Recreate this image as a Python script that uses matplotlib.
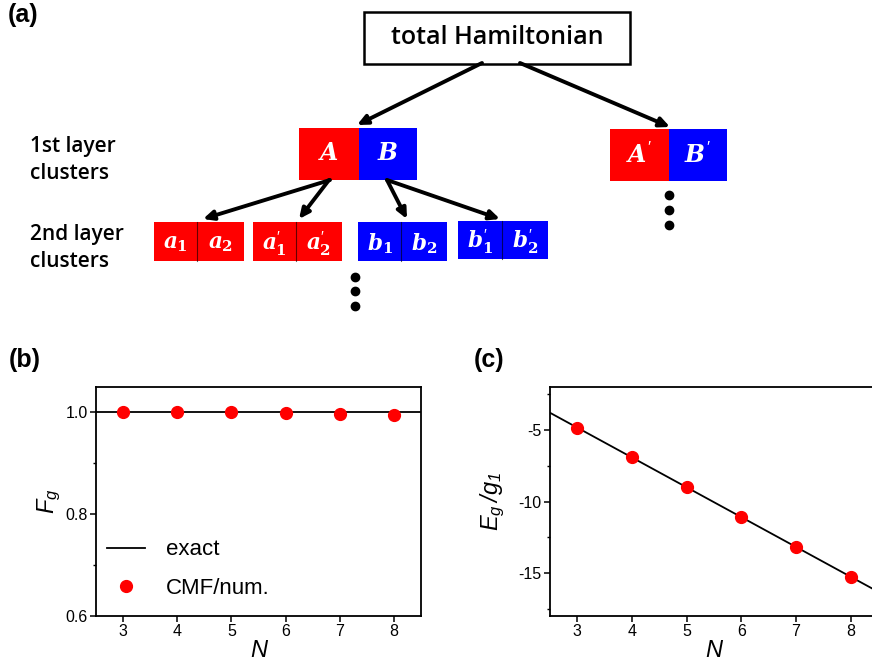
import matplotlib
matplotlib.use('Agg')
import matplotlib.pyplot as plt
import numpy as np

plt.rcParams['font.family'] = ['Liberation Sans', 'DejaVu Sans']
plt.rcParams['mathtext.fontset'] = 'custom'
plt.rcParams['mathtext.it'] = 'DejaVu Serif:italic:bold'
plt.rcParams['mathtext.bf'] = 'DejaVu Serif:bold'
plt.rcParams['mathtext.rm'] = 'Liberation Sans'
plt.rcParams['mathtext.sf'] = 'Liberation Sans:italic'
plt.rcParams['axes.linewidth'] = 1.3
plt.rcParams['axes.unicode_minus'] = False

## data
N = [3, 4, 5, 6, 7, 8]
Fg_num = [1.0, 1.0, 1.0, 0.999, 0.9975, 0.9955]
Fg_exact = 1.0
Eg_num = [-4.83, -6.86, -8.96, -11.06, -13.15, -15.25]
N_line = [2.5, 8.5]
Eg_exact = [-3.8, -16.3]

RED = '#ff0000'
BLUE = '#0000ff'

fig = plt.figure(figsize=(8.72, 6.70), dpi=100)

## (a) cluster diagram, drawn in pixel coords
ax0 = fig.add_axes([0, 0, 1, 1])
ax0.set_xlim(0, 872)
ax0.set_ylim(670, 0)
ax0.axis('off')

ax0.text(497, 38, 'total Hamiltonian', fontsize=18, family='Open Sans',
         fontweight='semibold', ha='center', va='center')
ax0.add_patch(plt.Rectangle((364, 12), 266, 52, fill=False, ec='k', lw=1.8))

# first layer: (x0, xmid, x1, y0, y1, left label, right label)
layer1 = [(299, 359, 417, 128, 180, r'$A$', r'$B$'),
          (610, 669, 727, 129, 181, r'$A^{\prime}$', r'$B^{\prime}$')]
layer2 = [(154, 197, 244, 222, 261, RED, r'$a_{\mathbf{1}}$', r'$a_{\mathbf{2}}$'),
          (253, 296, 342, 222, 261, RED, r'$a_{\mathbf{1}}^{\prime}$', r'$a_{\mathbf{2}}^{\prime}$'),
          (358, 401, 447, 222, 261, BLUE, r'$b_{\mathbf{1}}$', r'$b_{\mathbf{2}}$'),
          (458, 502, 548, 221, 259, BLUE, r'$b_{\mathbf{1}}^{\prime}$', r'$b_{\mathbf{2}}^{\prime}$')]

for x0, xm, x1, y0, y1, l1, l2 in layer1:
    ax0.add_patch(plt.Rectangle((x0, y0), xm - x0, y1 - y0, fc=RED, ec='none'))
    ax0.add_patch(plt.Rectangle((xm, y0), x1 - xm, y1 - y0, fc=BLUE, ec='none'))
    ax0.text((x0 + xm) / 2, (y0 + y1) / 2, l1, color='w', fontsize=17, ha='center', va='center')
    ax0.text((xm + x1) / 2, (y0 + y1) / 2, l2, color='w', fontsize=17, ha='center', va='center')

for x0, xm, x1, y0, y1, c, l1, l2 in layer2:
    ax0.add_patch(plt.Rectangle((x0, y0), x1 - x0, y1 - y0, fc=c, ec='none'))
    ax0.plot([xm, xm], [y0, y1], c='k', lw=0.8, alpha=0.6)
    ax0.text((x0 + xm) / 2, (y0 + y1) / 2 + 2, l1, color='w', fontsize=15.5, ha='center', va='center')
    ax0.text((xm + x1) / 2, (y0 + y1) / 2 + 2, l2, color='w', fontsize=15.5, ha='center', va='center')

arrows = [((482, 63), (357, 125)), ((520, 63), (670, 127)),
          ((330, 180), (203, 219)), ((329, 180), (299, 219)),
          ((387, 180), (407, 219)), ((387, 180), (500, 219))]
for start, end in arrows:
    ax0.annotate('', xy=end, xytext=start,
                 arrowprops=dict(arrowstyle='-|>,head_length=0.6,head_width=0.28',
                                 lw=2.8, color='k', shrinkA=0, shrinkB=0))

ax0.plot([669, 669, 669], [195, 210, 225], 'o', c='k', ms=6)
ax0.plot([355, 355, 355], [277, 291, 306], 'o', c='k', ms=6)

for txt, yb in [('1st layer', 152), ('clusters', 179), ('2nd layer', 240), ('clusters', 267)]:
    ax0.text(30, yb, txt, fontsize=15, family='Open Sans', fontweight='semibold',
             ha='left', va='baseline')

fig.text(8 / 872, 1 - 22 / 670, '(a)', fontsize=18, fontweight='bold')
fig.text(9 / 872, 1 - 367 / 670, '(b)', fontsize=18, fontweight='bold')
fig.text(474 / 872, 1 - 367 / 670, '(c)', fontsize=18, fontweight='bold')

## (b)
ax1 = fig.add_axes([96 / 872, 54 / 670, 325 / 872, 229 / 670])
ax1.axhline(Fg_exact, c='k', lw=1.3, label='exact')
ax1.plot(N, Fg_num, 'o', c=RED, ms=8.5, label='CMF/num.')
ax1.set_xlim(2.5, 8.5)
ax1.set_ylim(0.6, 1.05)
ax1.set_xticks(N)
ax1.set_yticks([0.6, 0.8, 1.0])
ax1.set_yticks([0.7, 0.9], minor=True)
ax1.set_yticklabels(['0.6', '0.8', '1.0'])
ax1.tick_params(direction='out', labelsize=11.5, length=4, width=1.1, pad=2)
ax1.tick_params(which='minor', direction='out', length=2.5, width=1.0)
ax1.set_xlabel('N', fontsize=17, style='italic', labelpad=0)
ax1.set_ylabel(r'$\mathsf{F_g}$', fontsize=17, labelpad=2)
ax1.legend(loc='upper left', bbox_to_anchor=(0.035, 0.335), frameon=False, fontsize=16,
           handlelength=1.7, handletextpad=0.95, labelspacing=0.8, borderpad=0,
           borderaxespad=0)

## (c)
ax2 = fig.add_axes([550 / 872, 54 / 670, 328 / 872, 229 / 670])
ax2.plot(N_line, Eg_exact, c='k', lw=1.3)
ax2.plot(N, Eg_num, 'o', c=RED, ms=8.5)
ax2.set_xlim(2.5, 8.5)
ax2.set_ylim(-18, -2)
ax2.set_xticks(N)
ax2.set_yticks([-15, -10, -5])
ax2.set_yticks([-17.5, -12.5, -7.5, -2.5], minor=True)
ax2.tick_params(direction='out', labelsize=11.5, length=4, width=1.1, pad=2)
ax2.tick_params(which='minor', direction='out', length=2.5, width=1.0)
ax2.set_xlabel('N', fontsize=17, style='italic', labelpad=0)
ax2.set_ylabel(r'$\mathsf{E_g\,/g_1}$', fontsize=17, labelpad=8)

plt.savefig('out.png', dpi=100)
plt.close()
